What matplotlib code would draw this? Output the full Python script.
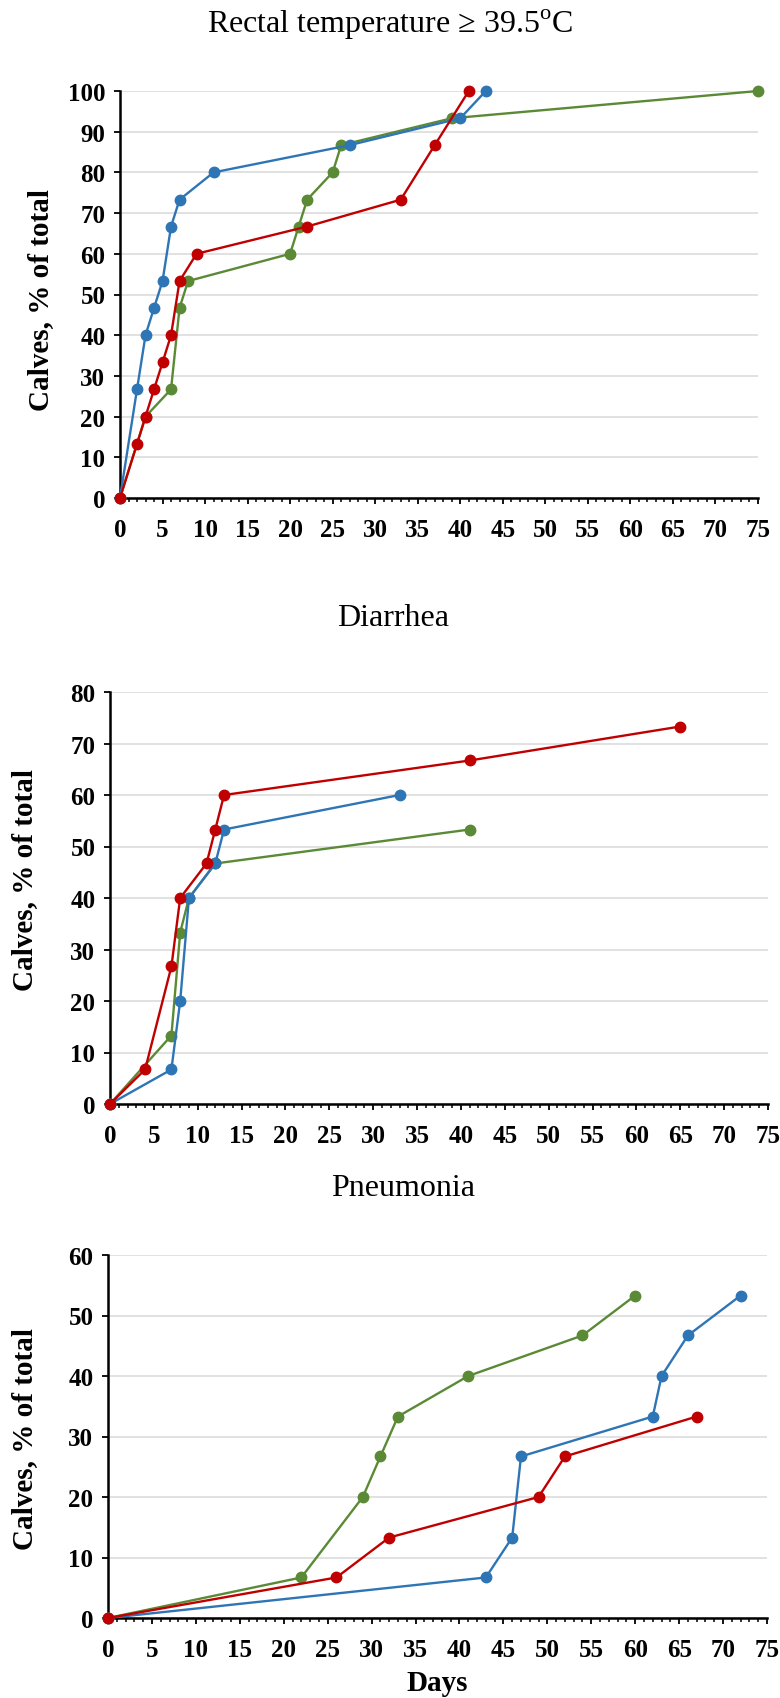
import numpy as np
import matplotlib
matplotlib.use("Agg")
import matplotlib.pyplot as plt
from matplotlib.ticker import MultipleLocator

plt.rcParams["font.family"] = ["Liberation Serif", "DejaVu Serif"]
plt.rcParams["mathtext.fontset"] = "custom"
plt.rcParams["mathtext.rm"] = "Liberation Serif"

BLUE = "#2E75B6"
RED = "#C00000"
GREEN = "#5A8A35"

# ---------------------------------------------------------------------------
# Data: cumulative share of calves (% of total) by day
# ---------------------------------------------------------------------------

# Rectal temperature >= 39.5 C
temp_blue_days = [0, 2, 3, 4, 5, 6, 7, 11, 27, 40, 43]
temp_blue_pct = [0, 26.7, 40, 46.7, 53.3, 66.7, 73.3, 80, 86.7, 93.3, 100]
temp_red_days = [0, 2, 3, 4, 5, 6, 7, 9, 22, 33, 37, 41]
temp_red_pct = [0, 13.3, 20, 26.7, 33.3, 40, 53.3, 60, 66.7, 73.3, 86.7, 100]
temp_green_days = [0, 3, 6, 7, 8, 20, 21, 22, 25, 26, 39, 75]
temp_green_pct = [0, 20, 26.7, 46.7, 53.3, 60, 66.7, 73.3, 80, 86.7, 93.3, 100]

# Diarrhea
diar_blue_days = [0, 7, 8, 9, 12, 13, 33]
diar_blue_pct = [0, 6.7, 20, 40, 46.7, 53.3, 60]
diar_red_days = [0, 4, 7, 8, 11, 12, 13, 41, 65]
diar_red_pct = [0, 6.7, 26.7, 40, 46.7, 53.3, 60, 66.7, 73.3]
diar_green_days = [0, 7, 8, 9, 12, 41]
diar_green_pct = [0, 13.3, 33.3, 40, 46.7, 53.3]

# Pneumonia
pneu_blue_days = [0, 43, 46, 47, 62, 63, 66, 72]
pneu_blue_pct = [0, 6.7, 13.3, 26.7, 33.3, 40, 46.7, 53.3]
pneu_red_days = [0, 26, 32, 49, 52, 67]
pneu_red_pct = [0, 6.7, 13.3, 20, 26.7, 33.3]
pneu_green_days = [0, 22, 29, 31, 33, 41, 54, 60]
pneu_green_pct = [0, 6.7, 20, 26.7, 33.3, 40, 46.7, 53.3]

W, H = 780, 1699
fig = plt.figure(figsize=(W / 100, H / 100), dpi=100)


def px_axes(left, top, right, bottom):
    """Axes from pixel box (origin top-left)."""
    return fig.add_axes([left / W, 1 - bottom / H, (right - left) / W, (bottom - top) / H])


def style_panel(ax, ymax):
    ax.set_xlim(0, 75)
    ax.set_ylim(0, ymax)
    ax.xaxis.set_major_locator(MultipleLocator(5))
    ax.xaxis.set_minor_locator(MultipleLocator(1))
    ax.yaxis.set_major_locator(MultipleLocator(10))
    for s in ("top", "right"):
        ax.spines[s].set_visible(False)
    for s in ("left", "bottom"):
        ax.spines[s].set_linewidth(1.8)
        ax.spines[s].set_color("black")
    ax.grid(axis="y", color="#D9D9D9", linewidth=1.1)
    ax.set_axisbelow(True)
    ax.tick_params(axis="x", which="major", direction="out", length=4.5, width=1.3,
                   pad=10, labelsize=18)
    ax.tick_params(axis="x", which="minor", direction="out", length=2.8, width=1.1)
    ax.tick_params(axis="y", which="major", direction="out", length=4.5, width=1.3,
                   pad=6, labelsize=18)
    for lab in ax.get_xticklabels() + ax.get_yticklabels():
        lab.set_fontweight("bold")


def draw_series(ax, series):
    for days, pct, color in series:
        ax.plot(days, pct, "-o", color=color, lw=1.7, ms=7.5, clip_on=False, zorder=3)


def ylabel(x, y):
    fig.text(x / W, 1 - y / H, "Calves, % of total", rotation=90, ha="center",
             va="center", fontsize=21, fontweight="bold")


# Panel 1
ax1 = px_axes(120, 92, 758, 499)
draw_series(ax1, [(temp_green_days, temp_green_pct, GREEN),
                  (temp_blue_days, temp_blue_pct, BLUE),
                  (temp_red_days, temp_red_pct, RED)])
style_panel(ax1, 100)
fig.text(390 / W, 1 - 25 / H, "Rectal temperature \u2265 39.5$^{\\rm o}$C",
         ha="center", va="center", fontsize=23)
ylabel(41, 300)

# Panel 2
ax2 = px_axes(110, 693, 768, 1105)
draw_series(ax2, [(diar_green_days, diar_green_pct, GREEN),
                  (diar_blue_days, diar_blue_pct, BLUE),
                  (diar_red_days, diar_red_pct, RED)])
style_panel(ax2, 80)
fig.text(393 / W, 1 - 619 / H, "Diarrhea", ha="center", va="center", fontsize=23)
ylabel(25, 880)

# Panel 3
ax3 = px_axes(108, 1256, 767, 1619)
draw_series(ax3, [(pneu_green_days, pneu_green_pct, GREEN),
                  (pneu_blue_days, pneu_blue_pct, BLUE),
                  (pneu_red_days, pneu_red_pct, RED)])
style_panel(ax3, 60)
fig.text(403 / W, 1 - 1188 / H, "Pneumonia", ha="center", va="center", fontsize=23)
ylabel(25, 1439)
fig.text(437 / W, 1 - 1684 / H, "Days", ha="center", va="center", fontsize=21,
         fontweight="bold")

fig.savefig("out.png", dpi=100)
